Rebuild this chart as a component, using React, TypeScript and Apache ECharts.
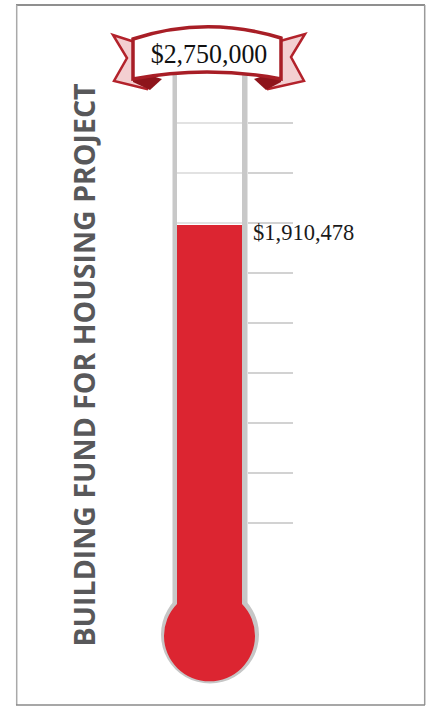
import React, { useEffect, useRef } from "react";
import * as echarts from "echarts";

const TITLE = "BUILDING FUND FOR HOUSING PROJECT";
const GOAL = 2750000;
const CATEGORIES = ["Raised"];
const RAISED = [1910478];
const TICK_STEP = 275000;

const fmt = (v: number) => "$" + Number(v).toLocaleString("en-US");

const BAND_D = "M133,39 Q206,15 281,38 L281,79 Q207,65 133,79 Z";
const LTAIL_D = "M141,44 L113,35 L127,58 L114,81 L147,89 L152,78 Z";
const RTAIL_D = "M273,43 L305,34 L291,57 L304,81 L268,89 L263,78 Z";
const LFOLD_D = "M133,70 L133,82 L150,90 L162,79 Z";
const RFOLD_D = "M281,70 L281,82 L266,90 L254,79 Z";
const BULB_D = "M177,560 L242,560 L242,604 A45.5,45.5 0 1 1 177,604 Z";

echarts.graphic.registerShape("bannerBand", echarts.graphic.extendPath(BAND_D, {}));
echarts.graphic.registerShape("bannerLTail", echarts.graphic.extendPath(LTAIL_D, {}));
echarts.graphic.registerShape("bannerRTail", echarts.graphic.extendPath(RTAIL_D, {}));
echarts.graphic.registerShape("bannerLFold", echarts.graphic.extendPath(LFOLD_D, {}));
echarts.graphic.registerShape("bannerRFold", echarts.graphic.extendPath(RFOLD_D, {}));
echarts.graphic.registerShape("bulbShape", echarts.graphic.extendPath(BULB_D, {}));

const RED = "#dc2531";

export default function App() {
  const ref = useRef<HTMLDivElement>(null);
  useEffect(() => {
    if (!ref.current) return;
    const chart = echarts.init(ref.current, null, { renderer: "svg" });
    const hiddenAxis = {
      axisLine: { show: false },
      axisTick: { show: false },
      axisLabel: { show: false },
    };
    chart.setOption({
      animation: false,
      backgroundColor: "#ffffff",
      grid: [
        { left: 177, top: 72.36, width: 65, height: 500 },
        { left: 248, top: 122.36, width: 45, height: 400 },
      ],
      xAxis: [
        { type: "category", gridIndex: 0, data: CATEGORIES, ...hiddenAxis, splitLine: { show: false } },
        { type: "category", gridIndex: 1, data: CATEGORIES, ...hiddenAxis, splitLine: { show: false } },
      ],
      yAxis: [
        {
          type: "value",
          gridIndex: 0,
          min: 0,
          max: GOAL,
          interval: TICK_STEP,
          ...hiddenAxis,
          splitLine: { show: true, lineStyle: { color: "#e2e2e2", width: 2 } },
        },
        {
          type: "value",
          gridIndex: 1,
          min: TICK_STEP,
          max: GOAL - TICK_STEP,
          interval: TICK_STEP,
          ...hiddenAxis,
          splitLine: { show: true, lineStyle: { color: "#d2d2d2", width: 2 } },
        },
      ],
      series: [
        {
          type: "bar",
          xAxisIndex: 0,
          yAxisIndex: 0,
          data: RAISED,
          barWidth: "100%",
          itemStyle: { color: RED },
          label: {
            show: true,
            position: ["100%", 0],
            offset: [11, -4],
            align: "left",
            verticalAlign: "top",
            formatter: (p: any) => fmt(p.value),
            fontFamily: "Liberation Serif",
            fontSize: 22.5,
            color: "#1a1a1a",
          },
        },
      ],
      graphic: [
        // frame
        { type: "line", z: 50, shape: { x1: 16, y1: 5, x2: 425, y2: 5 }, style: { stroke: "#6a6a6a", lineWidth: 1.5 } },
        { type: "line", z: 50, shape: { x1: 16.7, y1: 5, x2: 16.7, y2: 705 }, style: { stroke: "#a9a9a9", lineWidth: 1.5 } },
        { type: "line", z: 50, shape: { x1: 424.7, y1: 5, x2: 424.7, y2: 705 }, style: { stroke: "#9a9a9a", lineWidth: 1.5 } },
        { type: "line", z: 50, shape: { x1: 16, y1: 705, x2: 425, y2: 705 }, style: { stroke: "#8a8a8a", lineWidth: 1.5 } },
        // vertical title
        {
          type: "text",
          z: 50,
          x: 84,
          y: 365,
          rotation: Math.PI / 2,
          style: {
            text: TITLE,
            fontFamily: "Open Sans",
            fontWeight: "bold",
            fontSize: 28.5,
            fill: "#58585a",
            align: "center",
            verticalAlign: "middle",
            textAlign: "center",
            textVerticalAlign: "middle",
          },
        },
        // tube walls
        { type: "rect", z: 40, shape: { x: 172.5, y: 70, width: 4.5, height: 536 }, style: { fill: "#c8c8c8" } },
        { type: "rect", z: 40, shape: { x: 242, y: 70, width: 5.5, height: 536 }, style: { fill: "#c8c8c8" } },
        // bulb
        { type: "circle", z: 41, shape: { cx: 210, cy: 634.5, r: 49 }, style: { fill: "#c6c6c6" } },
        { type: "bulbShape", z: 42, x: 0, y: 0, style: { fill: RED } },
        // banner
        { type: "bannerLTail", z: 60, x: 0, y: 0, style: { fill: "#f3cfd1", stroke: "#b3222b", lineWidth: 2.5 } },
        { type: "bannerRTail", z: 60, x: 0, y: 0, style: { fill: "#f3cfd1", stroke: "#b3222b", lineWidth: 2.5 } },
        { type: "bannerLFold", z: 61, x: 0, y: 0, style: { fill: "#8e141b" } },
        { type: "bannerRFold", z: 61, x: 0, y: 0, style: { fill: "#8e141b" } },
        { type: "bannerBand", z: 62, x: 0, y: 0, style: { fill: "#ffffff", stroke: "#a81e26", lineWidth: 3.5 } },
        {
          type: "text",
          z: 63,
          x: 209,
          y: 54,
          scaleX: 0.96,
          style: {
            text: fmt(GOAL),
            fontFamily: "Liberation Serif",
            fontSize: 27,
            fill: "#111111",
            align: "center",
            verticalAlign: "middle",
            textAlign: "center",
            textVerticalAlign: "middle",
          },
        },
      ],
    });
    return () => chart.dispose();
  }, []);
  return (
    <div
      ref={ref}
      style={{ position: "absolute", left: 0, top: 0, width: 430, height: 706 }}
    />
  );
}
